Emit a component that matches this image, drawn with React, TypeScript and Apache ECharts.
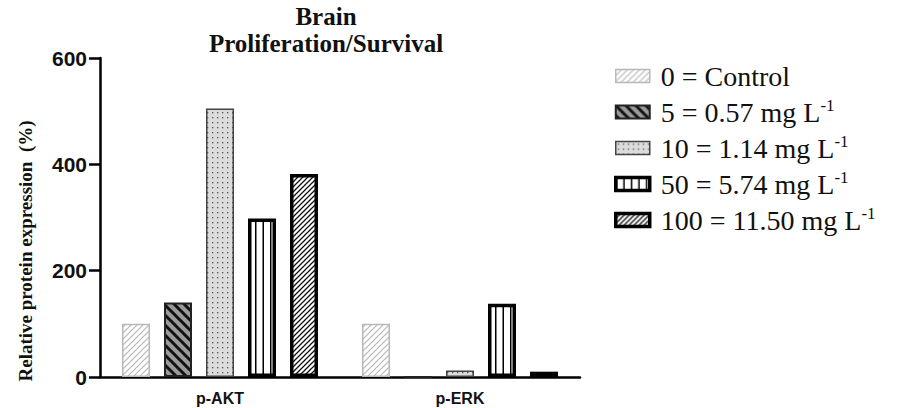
import React, { useEffect, useRef } from "react";
import * as echarts from "echarts";

const categories = ["p-AKT", "p-ERK"];
const seriesNames = [
  "0 = Control",
  "5 = 0.57 mg L",
  "10 = 1.14 mg L",
  "50 = 5.74 mg L",
  "100 = 11.50 mg L",
];
const control = [100, 100];
const dose5 = [140, 0];
const dose10 = [505, 12];
const dose50 = [298, 138];
const dose100 = [382, 10];
const yTicks = [0, 200, 400, 600];

function makePattern(w: number, h: number, draw: (ctx: CanvasRenderingContext2D) => void) {
  const c = document.createElement("canvas");
  c.width = w;
  c.height = h;
  const ctx = c.getContext("2d") as CanvasRenderingContext2D;
  draw(ctx);
  return { image: c, repeat: "repeat", imageWidth: w, imageHeight: h } as any;
}

function slash(ctx: CanvasRenderingContext2D, s: number, up: boolean) {
  ctx.beginPath();
  for (let k = -1; k <= 1; k++) {
    if (up) {
      ctx.moveTo(k * s - 1, s + 1);
      ctx.lineTo(k * s + s + 1, -1);
    } else {
      ctx.moveTo(k * s - 1, -1);
      ctx.lineTo(k * s + s + 1, s + 1);
    }
  }
  ctx.stroke();
}

export default function App() {
  const ref = useRef<HTMLDivElement>(null);
  useEffect(() => {
    document.body.style.margin = "0";
    if (!ref.current) return;
    const chart = echarts.init(ref.current, undefined, { renderer: "svg" });

    const pControl = makePattern(6, 6, (ctx) => {
      ctx.fillStyle = "#ffffff";
      ctx.fillRect(0, 0, 6, 6);
      ctx.strokeStyle = "#b8b8b8";
      ctx.lineWidth = 1.2;
      slash(ctx, 6, true);
    });
    const p5 = makePattern(10, 10, (ctx) => {
      ctx.fillStyle = "#9a9a9a";
      ctx.fillRect(0, 0, 10, 10);
      ctx.strokeStyle = "#111";
      ctx.lineWidth = 3;
      slash(ctx, 10, false);
    });
    const p10 = makePattern(5, 5, (ctx) => {
      ctx.fillStyle = "#dcdcdc";
      ctx.fillRect(0, 0, 5, 5);
      ctx.fillStyle = "#555";
      ctx.fillRect(2, 2, 1.3, 1.3);
    });
    const p50 = makePattern(15, 4, (ctx) => {
      ctx.fillStyle = "#ffffff";
      ctx.fillRect(0, 0, 15, 4);
      ctx.fillStyle = "#000";
      ctx.fillRect(0, 0, 1.5, 4);
      ctx.fillRect(7.5, 0, 1.5, 4);
    });
    const p100 = makePattern(5, 5, (ctx) => {
      ctx.fillStyle = "#ffffff";
      ctx.fillRect(0, 0, 5, 5);
      ctx.strokeStyle = "#111";
      ctx.lineWidth = 1.3;
      slash(ctx, 5, true);
    });

    const styles = [
      { color: pControl, borderColor: "#b8b8b8", borderWidth: 1.5 },
      { color: p5, borderColor: "#222", borderWidth: 2 },
      { color: p10, borderColor: "#444", borderWidth: 1.5 },
      { color: p50, borderColor: "#000", borderWidth: 3.5 },
      { color: p100, borderColor: "#000", borderWidth: 3.5 },
    ];
    const data = [control, dose5, dose10, dose50, dose100];

    const series = seriesNames.map((name, i) => ({
      type: "bar",
      name,
      data: data[i],
      barWidth: 28,
      barGap: "50%",
      itemStyle: styles[i],
      emphasis: { disabled: true },
    }));

    chart.setOption({
      animation: false,
      title: {
        text: "Brain\nProliferation/Survival",
        left: 326,
        top: 3,
        padding: 0,
        textAlign: "center",
        textStyle: {
          fontFamily: "Liberation Serif",
          fontWeight: "bold",
          fontSize: 25,
          lineHeight: 27,
          color: "#111",
        },
      },
      legend: {
        orient: "vertical",
        left: 614,
        top: 62,
        padding: 0,
        itemWidth: 34,
        itemHeight: 13,
        itemGap: 7,
        icon: "rect",
        selectedMode: false,
        data: seriesNames.map((name, i) => ({
          name,
          itemStyle: { borderWidth: styles[i].borderWidth, borderColor: styles[i].borderColor },
        })),
        formatter: (name: string) =>
          name.endsWith("mg L") ? `{a|${name}}{s|-1}` : `{a|${name}}`,
        textStyle: {
          color: "#111",
          rich: {
            a: {
              fontFamily: "Liberation Serif",
              fontSize: 28,
              lineHeight: 30,
              color: "#111",
              padding: [0, 0, 0, 6],
            },
            s: {
              fontFamily: "Liberation Serif",
              fontSize: 17,
              lineHeight: 17,
              verticalAlign: "top",
              color: "#111",
            },
          },
        },
      },
      grid: { left: 100, right: 322, top: 58, bottom: 31 },
      xAxis: {
        type: "category",
        data: categories,
        axisLine: { lineStyle: { color: "#000", width: 2.5 } },
        axisTick: { alignWithLabel: true, length: 10, lineStyle: { color: "#000", width: 2.5 } },
        axisLabel: {
          fontFamily: "Liberation Sans",
          fontWeight: "bold",
          fontSize: 16,
          color: "#111",
          margin: 13,
        },
      },
      yAxis: {
        type: "value",
        min: yTicks[0],
        max: yTicks[yTicks.length - 1],
        interval: yTicks[1] - yTicks[0],
        splitLine: { show: false },
        axisLine: { show: true, lineStyle: { color: "#000", width: 2.5 } },
        axisTick: { show: true, length: 11, lineStyle: { color: "#000", width: 2.5 } },
        axisLabel: {
          fontFamily: "Liberation Sans",
          fontWeight: "bold",
          fontSize: 21,
          color: "#111",
          margin: 13,
        },
      },
      graphic: [
        {
          type: "text",
          x: 25,
          y: 251,
          rotation: Math.PI / 2,
          style: {
            text: "Relative protein expression  (%)",
            font: 'bold 19px "Liberation Serif"',
            fill: "#111",
            textAlign: "center",
            textVerticalAlign: "middle",
          },
        },
      ],
      series,
    });
    return () => chart.dispose();
  }, []);
  return <div ref={ref} style={{ width: 902, height: 408 }} />;
}
